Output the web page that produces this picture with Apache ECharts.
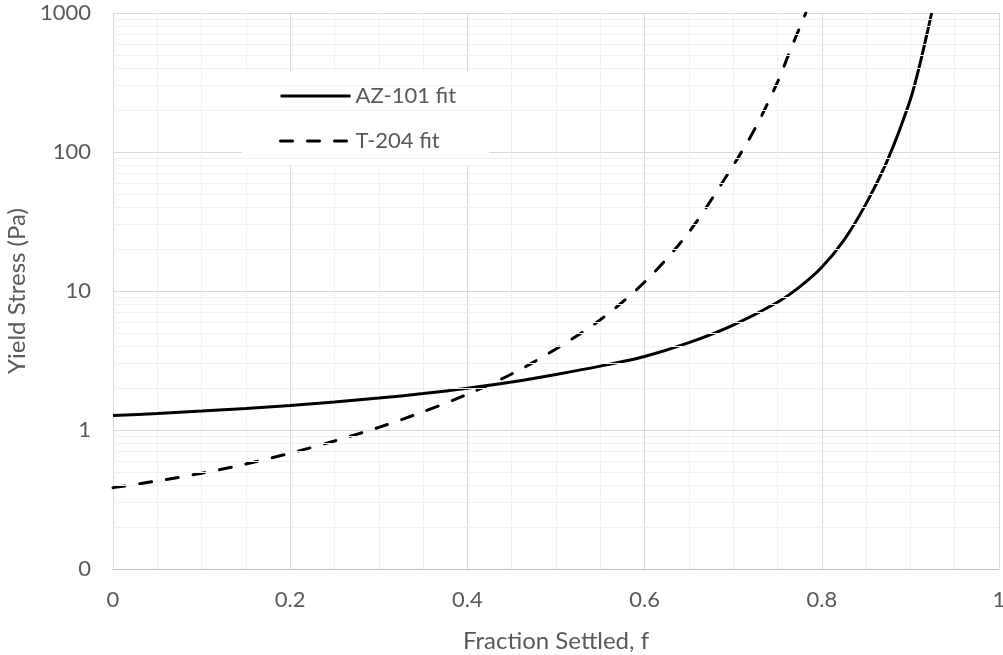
<!DOCTYPE html>
<html>
<head>
<meta charset="utf-8">
<title>Yield Stress vs Fraction Settled</title>
<script src="https://cdn.jsdelivr.net/npm/echarts@6/dist/echarts.min.js"></script>
<style>
  html, body { margin: 0; padding: 0; background: #ffffff; }
  #chart { width: 1003px; height: 655px; }
</style>
</head>
<body>
<div id="chart"></div>
<script>
// AZ-101 fit: fraction settled vs yield stress (Pa)
const fractionAZ = [0, 0.05, 0.1, 0.15, 0.2, 0.25, 0.3, 0.35, 0.4, 0.45, 0.5, 0.55, 0.6, 0.65, 0.7, 0.75, 0.775, 0.8, 0.825, 0.85, 0.875, 0.9, 0.91, 0.924];
const stressAZ = [1.27, 1.315, 1.368, 1.429, 1.503, 1.592, 1.698, 1.828, 1.995, 2.213, 2.51, 2.88, 3.38, 4.25, 5.69, 8.3, 10.7, 14.8, 23.2, 42.5, 90, 239, 410, 1000];

// T-204 fit
const fractionT = [0, 0.05, 0.1, 0.15, 0.2, 0.25, 0.3, 0.35, 0.4, 0.45, 0.5, 0.55, 0.6, 0.65, 0.7, 0.725, 0.75, 0.765, 0.782];
const stressT = [0.385, 0.43, 0.489, 0.569, 0.681, 0.834, 1.045, 1.352, 1.807, 2.53, 3.83, 6.21, 11.6, 26.5, 80, 149, 318, 550, 1000];

const seriesNames = ['AZ-101 fit', 'T-204 fit'];
const xTickLabels = ['0', '0.2', '0.4', '0.6', '0.8', '1'];

// log-spaced minor gridlines (2..9 within each decade)
const minorY = [];
for (let p = -1; p < 3; p++) {
  for (let m = 2; m <= 9; m++) minorY.push(m * Math.pow(10, p));
}

const pairs = (xs, ys) => xs.map((x, i) => [x, ys[i]]);

const FONT = 'Lato, "Open Sans", sans-serif';
const TEXT = '#595959';

const chart = echarts.init(document.getElementById('chart'), null, { renderer: 'canvas' });
chart.setOption({
  backgroundColor: '#ffffff',
  animation: false,
  grid: { left: 113, right: 4, top: 13, bottom: 86, outerBoundsMode: 'none', containLabel: false },
  legend: {
    data: seriesNames,
    orient: 'vertical',
    left: 242,
    top: 72,
    padding: [13, 33, 14, 37],
    backgroundColor: '#ffffff',
    itemWidth: 70,
    itemHeight: 14,
    itemGap: 23,
    itemStyle: { opacity: 0 },
    lineStyle: { width: 3 },
    textStyle: { fontFamily: FONT, fontSize: 22, color: TEXT, lineHeight: 22 }
  },
  xAxis: {
    type: 'value',
    min: 0,
    max: 1,
    interval: 0.2,
    name: 'Fraction Settled, f',
    nameLocation: 'middle',
    nameGap: 60,
    nameTextStyle: { fontFamily: FONT, fontSize: 24, color: TEXT },
    axisLine: { show: true, lineStyle: { color: '#bfbfbf', width: 1 } },
    axisTick: { show: false },
    axisLabel: {
      fontFamily: FONT, fontSize: 22, color: TEXT, margin: 20,
      formatter: (v) => xTickLabels[Math.round(v * 5)]
    },
    splitLine: { show: true, lineStyle: { color: '#d9d9d9', width: 1 } },
    minorTick: { show: false, splitNumber: 4 },
    minorSplitLine: { show: true, lineStyle: { color: '#f0f0f0', width: 1 } }
  },
  yAxis: {
    type: 'log',
    logBase: 10,
    min: 0.1,
    max: 1000,
    interval: 1,
    name: 'Yield Stress (Pa)',
    nameLocation: 'middle',
    nameGap: 82,
    nameTextStyle: { fontFamily: FONT, fontSize: 24, color: TEXT },
    axisLine: { show: true, lineStyle: { color: '#d9d9d9', width: 1 } },
    axisTick: { show: false },
    axisLabel: {
      fontFamily: FONT, fontSize: 22, color: TEXT, margin: 22,
      formatter: (v) => (v < 1 ? '0' : String(Math.round(v)))
    },
    splitLine: { show: true, lineStyle: { color: '#d9d9d9', width: 1 } }
  },
  series: [
    {
      name: 'minor-grid',
      type: 'line',
      data: [],
      z: 1,
      silent: true,
      markLine: {
        silent: true,
        symbol: ['none', 'none'],
        label: { show: false },
        emphasis: { disabled: true },
        lineStyle: { color: '#f0f0f0', width: 1, type: 'solid' },
        data: minorY.map((v) => ({ yAxis: v }))
      }
    },
    {
      name: seriesNames[0],
      type: 'line',
      data: pairs(fractionAZ, stressAZ),
      smooth: 0.3,
      symbol: 'circle',
      showSymbol: false,
      z: 3,
      lineStyle: { color: '#000000', width: 3, type: 'solid' },
      itemStyle: { color: '#000000' }
    },
    {
      name: seriesNames[1],
      type: 'line',
      data: pairs(fractionT, stressT),
      smooth: 0.3,
      symbol: 'circle',
      showSymbol: false,
      z: 3,
      lineStyle: { color: '#000000', width: 3, type: [12, 15], cap: 'round' },
      itemStyle: { color: '#000000' }
    }
  ]
});
</script>
</body>
</html>
